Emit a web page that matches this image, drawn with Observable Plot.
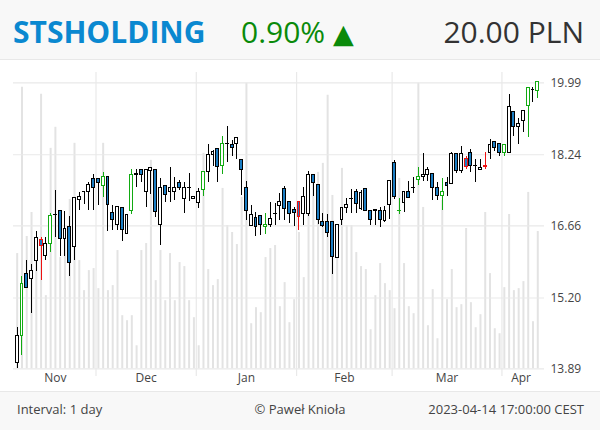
<!DOCTYPE html>
<html><head><meta charset="utf-8">
<script src="https://cdn.jsdelivr.net/npm/d3@7"></script>
<script src="https://cdn.jsdelivr.net/npm/@observablehq/plot@0.6"></script>
<style>
body{margin:0;width:600px;height:430px;position:relative;overflow:hidden;background:#fff;font-family:"Open Sans",sans-serif;}
#hdr{position:absolute;left:0;top:0;width:600px;height:59px;background:#f8f8f8;border-bottom:1px solid #e8e8e8;}
#hdr span{position:absolute;top:17px;font-size:30px;line-height:30px;white-space:nowrap;}
#chart{position:absolute;left:0;top:60px;width:600px;height:332px;}
#chart svg{position:absolute;left:0;top:0;}
#ftr{position:absolute;left:0;top:391px;width:600px;height:39px;background:#f8f8f8;border-top:1px solid #e8e8e8;font-size:13px;color:#444;}
#ftr span{position:absolute;top:0;line-height:35px;white-space:nowrap;}
</style></head>
<body>
<div id="hdr">
  <span style="left:13px;font-weight:700;color:#0a88d0;">STSHOLDING</span>
  <span style="left:241px;color:#0a8a0a">0.90% <span style="position:static;font-family:'DejaVu Sans';font-size:27px">▲</span></span>
  <span style="right:16px;color:#333">20.00 PLN</span>
</div>
<div id="chart"></div>
<div id="ftr">
  <span style="left:17px">Interval: 1 day</span>
  <span style="left:0;width:600px;text-align:center">© Paweł Knioła</span>
  <span style="right:16px">2023-04-14 17:00:00 CEST</span>
</div>
<script>
const dates = [
"2022-11-07","2022-11-08","2022-11-09","2022-11-10","2022-11-14","2022-11-15","2022-11-16","2022-11-17","2022-11-18","2022-11-21","2022-11-22","2022-11-23","2022-11-24","2022-11-25","2022-11-28","2022-11-29","2022-11-30",
"2022-12-01","2022-12-02","2022-12-05","2022-12-06","2022-12-07","2022-12-08","2022-12-09","2022-12-12","2022-12-13","2022-12-14","2022-12-15","2022-12-16","2022-12-19","2022-12-20","2022-12-21","2022-12-22","2022-12-23","2022-12-27","2022-12-28","2022-12-29","2022-12-30",
"2023-01-02","2023-01-03","2023-01-04","2023-01-05","2023-01-09","2023-01-10","2023-01-11","2023-01-12","2023-01-13","2023-01-16","2023-01-17","2023-01-18","2023-01-19","2023-01-20","2023-01-23","2023-01-24","2023-01-25","2023-01-26","2023-01-27","2023-01-30","2023-01-31",
"2023-02-01","2023-02-02","2023-02-03","2023-02-06","2023-02-07","2023-02-08","2023-02-09","2023-02-10","2023-02-13","2023-02-14","2023-02-15","2023-02-16","2023-02-17","2023-02-20","2023-02-21","2023-02-22","2023-02-23","2023-02-24","2023-02-27","2023-02-28",
"2023-03-01","2023-03-02","2023-03-03","2023-03-06","2023-03-07","2023-03-08","2023-03-09","2023-03-10","2023-03-13","2023-03-14","2023-03-15","2023-03-16","2023-03-17","2023-03-20","2023-03-21","2023-03-22","2023-03-23","2023-03-24","2023-03-27","2023-03-28","2023-03-29","2023-03-30","2023-03-31",
"2023-04-03","2023-04-04","2023-04-05","2023-04-06","2023-04-11","2023-04-12","2023-04-13","2023-04-14"];

const open = [14.00,14.49,15.67,15.57,15.94,16.37,16.03,16.28,16.89,16.98,16.39,16.63,16.21,17.22,17.39,17.39,17.69,
17.69,17.53,17.72,16.94,16.69,17.05,16.49,16.99,17.78,17.89,17.39,17.87,17.89,16.69,17.52,17.39,17.39,17.60,17.24,17.48,17.24,
17.16,17.45,17.84,18.23,18.37,17.98,18.49,18.47,18.49,18.12,17.48,16.66,16.83,16.88,16.64,16.68,16.91,17.08,17.46,17.18,17.01,
17.17,16.92,16.92,17.78,17.56,16.75,16.74,16.74,16.00,16.79,17.05,17.24,17.40,17.02,17.46,16.99,16.99,16.99,16.77,17.10,
18.04,16.98,17.15,17.40,17.48,17.66,17.72,17.78,17.81,17.48,17.30,17.59,17.57,18.25,17.87,18.14,18.28,17.97,17.89,17.97,18.28,18.55,18.49,
18.28,18.28,19.25,18.89,19.03,19.40,19.81,19.78];
const high = [14.64,15.63,15.94,15.87,16.55,16.41,16.41,16.92,17.44,16.98,16.98,16.87,17.26,17.39,17.40,17.61,17.78,
17.69,17.84,17.72,17.10,17.06,17.05,16.90,17.89,17.91,17.91,17.89,17.94,17.89,17.69,17.52,17.95,17.71,17.65,17.61,17.81,17.29,
17.48,17.84,18.49,18.33,18.37,18.67,18.90,18.57,18.63,18.12,17.63,17.10,16.95,16.88,16.93,17.17,17.15,17.37,17.51,17.18,17.06,
17.17,17.50,17.86,17.78,17.56,16.92,16.90,16.74,16.68,17.05,17.26,17.46,17.45,17.44,17.46,16.99,17.00,17.06,17.08,17.63,
18.10,17.26,17.39,17.63,17.71,17.95,18.28,17.95,17.81,17.60,17.69,17.71,18.29,18.25,18.43,18.20,18.37,18.14,18.14,18.29,18.59,18.55,18.49,
18.47,19.69,19.25,19.09,19.28,19.86,19.86,20.00];
const low = [13.89,14.13,15.38,14.91,15.73,15.54,15.94,16.10,16.41,16.02,16.02,15.63,15.94,16.99,17.12,16.99,16.99,
17.10,17.28,16.55,16.56,16.56,16.34,16.49,16.90,17.50,17.61,17.06,17.33,16.85,16.25,17.17,17.17,17.21,17.44,16.92,17.18,17.24,
17.04,17.29,17.60,17.96,17.60,17.78,18.06,18.21,18.14,17.31,16.77,16.65,16.44,16.46,16.49,16.63,16.67,16.77,16.77,16.72,16.64,
16.56,16.67,16.86,17.30,16.70,16.63,16.42,15.67,16.00,16.67,16.92,16.92,16.92,16.99,16.99,16.68,16.68,16.63,16.74,16.79,
17.22,16.90,16.95,17.26,17.36,17.53,17.63,17.63,17.21,17.21,16.99,17.29,17.57,17.80,17.80,17.90,17.84,17.60,17.89,17.91,18.14,18.31,18.19,
18.19,18.28,18.67,18.49,18.77,18.65,19.49,19.59];
const close = [14.49,15.47,15.39,15.73,16.41,16.23,16.28,16.88,16.90,16.39,16.59,15.89,17.26,17.29,17.40,17.56,17.48,
17.60,17.72,17.10,16.79,17.06,16.58,16.90,17.78,17.79,17.78,17.89,17.94,16.96,17.48,17.33,17.48,17.48,17.48,17.48,17.49,17.29,
17.40,17.84,18.24,18.30,17.95,18.49,18.50,18.40,18.63,17.89,16.99,16.90,16.63,16.67,16.69,16.80,16.92,17.18,17.03,16.92,16.94,
16.85,17.29,17.78,17.60,16.79,16.65,16.51,16.02,16.68,17.05,17.10,17.25,17.13,17.38,16.99,16.79,17.00,16.79,16.99,17.63,
17.29,16.99,17.39,17.26,17.49,17.72,17.78,17.89,17.48,17.30,17.39,17.52,18.25,17.87,18.25,17.96,17.97,17.98,17.94,17.96,18.47,18.39,18.28,
18.47,19.38,18.90,18.98,19.28,19.86,19.82,20.00];
const volume = [115,281,132,156,131,274,73,220,241,111,138,169,225,108,78,98,100,
80,225,78,83,118,53,48,53,23,118,125,208,88,118,68,115,68,106,102,68,51,
23,215,99,83,89,180,143,136,124,171,285,45,61,56,111,120,123,62,86,46,69,
136,91,161,191,196,205,273,173,143,200,143,143,116,102,99,39,73,105,85,78,
60,190,105,62,55,285,161,43,79,30,168,69,99,61,64,140,66,41,54,156,95,40,35,
81,154,78,80,87,176,47,137];
// 1 = highlighted up signal, -1 = highlighted down signal, 0 = none
const flag = [0,1,0,0,0,-1,0,1,0,0,0,0,0,0,0,0,0,
0,1,0,0,0,0,0,1,0,0,0,0,0,0,0,0,0,0,0,0,0,
0,1,0,0,0,1,0,0,0,0,0,0,0,0,1,0,0,0,0,0,0,
-1,0,0,0,0,0,0,0,0,0,0,0,0,0,0,0,0,0,0,0,
0,1,0,0,0,1,0,0,0,0,1,0,0,0,0,-1,0,0,0,-1,0,0,0,
1,0,0,0,0,1,0,1];
const monthLabels = ["Nov","Dec","Jan","Feb","Mar","Apr"];
const yTicks = [13.89, 15.20, 16.66, 18.24, 19.99];

const rows = dates.map((d, i) => ({i, date: d, open: open[i], high: high[i], low: low[i], close: close[i], volume: volume[i], flag: flag[i]}));
const groups = d3.groups(rows, d => d.date.slice(0, 7));
const months = groups.map(([k, g], j) => ({label: monthLabels[j], first: g[0].i, center: (g[0].i + g[g.length - 1].i) / 2}));

const BLUE = "#1b7dc3", GREEN = "#12aa12", RED = "#ee1111", INK = "#000";
const edge = d => d.flag > 0 ? GREEN : d.flag < 0 ? RED : INK;
const W = 600, H = 332;
const xDomain = [-0.775, 110.41];
const common = {width: W, height: H, marginLeft: 13, marginRight: 56, marginTop: 12, marginBottom: 16};

const volPlot = Plot.plot({
  ...common,
  x: {domain: xDomain, axis: null},
  y: {domain: [0, d3.max(volume)], range: [308.3, 22.7], axis: null},
  marks: [
    Plot.ruleX(rows, {x: "i", y: "volume", stroke: "#e3e3e3", strokeWidth: 2})
  ]
});

const pricePlot = Plot.plot({
  ...common,
  style: {background: "transparent", fontFamily: "'Open Sans', sans-serif", fontSize: "12px", color: "#444"},
  color: {type: "identity"},
  x: {domain: xDomain, axis: null},
  y: {type: "log", domain: [13.89, 19.99], range: [308.3, 22.3], axis: "right", ticks: yTicks, tickFormat: d => d.toFixed(2), tickSize: 0, tickPadding: 6, label: null},
  marks: [
    Plot.ruleY(yTicks, {stroke: "#e9e9e9", strokeWidth: 1.2}),
    Plot.ruleX(months.slice(1), {x: d => d.first - 0.5, stroke: "#e9e9e9", strokeWidth: 1.2}),
    Plot.ruleX(rows, {x: "i", y1: "low", y2: "high", stroke: edge, strokeWidth: 1, shapeRendering: "crispEdges"}),
    Plot.rect(rows, {x1: d => d.i - 0.3, x2: d => d.i + 0.3, y1: "open", y2: "close",
      fill: d => d.close >= d.open ? "#fff" : BLUE, stroke: edge, strokeWidth: 1, shapeRendering: "crispEdges"}),
    Plot.text(months, {x: "center", text: "label", frameAnchor: "bottom", dy: 2, lineAnchor: "middle", fill: "#444", fontSize: 12})
  ]
});

const chart = document.getElementById("chart");
chart.appendChild(volPlot);
chart.appendChild(pricePlot);
</script>
</body></html>
